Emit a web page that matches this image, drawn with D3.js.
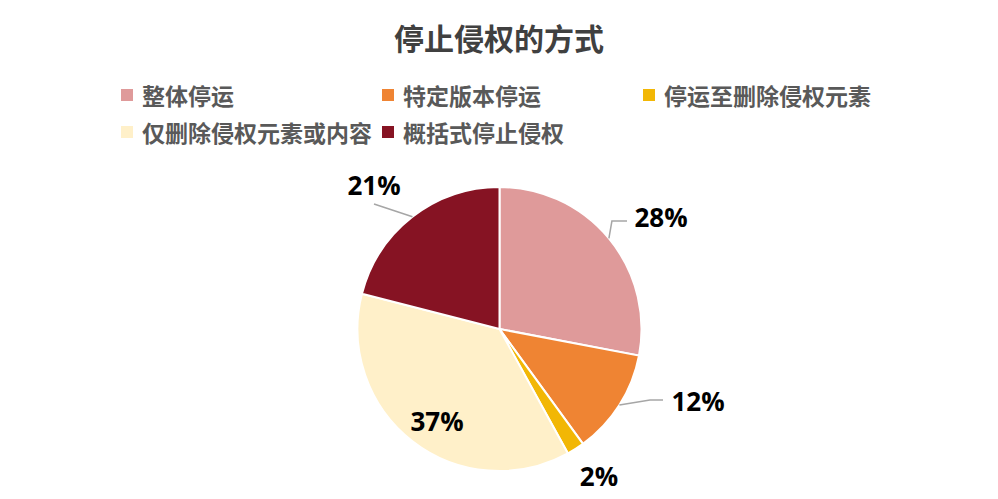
<!DOCTYPE html>
<html><head><meta charset="utf-8">
<script src="https://cdn.jsdelivr.net/npm/d3@7"></script>
<style>body{margin:0;background:#fff;} svg{display:block;}</style>
</head><body>
<svg id="c" width="998" height="499"></svg>
<script>
const title = "停止侵权的方式";
const categories = ["整体停运","特定版本停运","停运至删除侵权元素","仅删除侵权元素或内容","概括式停止侵权"];
const values = [28, 12, 2, 37, 21];
const colors = ["#DF9A9A","#EF8433","#F2B705","#FFF0C9","#861323"];

const svg = d3.select("#c");
const cx = 499.5, cy = 329, R = 142;
const cjk = "'Noto Sans CJK SC','Noto Sans',sans-serif";
const lat = "'Open Sans','Noto Sans',sans-serif";

svg.append("text").attr("x", 499).attr("y", 37).attr("text-anchor","middle")
  .attr("dominant-baseline","central").attr("font-family", cjk).attr("font-weight","bold")
  .attr("font-size", 30).attr("fill","#404040").text(title);

// legend
const legPos = [[121,95],[382,95],[643,95],[121,132],[382,132]];
const lg = svg.append("g");
categories.forEach((c,i)=>{
  const [x,y] = legPos[i];
  lg.append("rect").attr("x",x).attr("y",y-6).attr("width",12).attr("height",12).attr("fill",colors[i]);
  lg.append("text").attr("x",x+21).attr("y",y).attr("dominant-baseline","central")
    .attr("font-family",cjk).attr("font-weight","bold").attr("font-size",23).attr("fill","#595959").text(c);
});

const pie = d3.pie().sort(null).value(d=>d)(values);
const arc = d3.arc().innerRadius(0).outerRadius(R);
const g = svg.append("g").attr("transform",`translate(${cx},${cy})`);
g.selectAll("path").data(pie).join("path").attr("d",arc)
  .attr("fill",(d,i)=>colors[i]).attr("stroke","#fff").attr("stroke-width",2);

const labelPos = [[661,217],[698,401],[599,476],[437,421],[374,185]];
const line = (pts)=>g.append("polyline").attr("points",pts.map(p=>`${p[0]-cx},${p[1]-cy}`).join(" "))
  .attr("fill","none").attr("stroke","#A6A6A6").attr("stroke-width",1.5);
function edge(i, f){ const a=(pie[i].startAngle+pie[i].endAngle)/2; return [cx+Math.sin(a)*R*f, cy-Math.cos(a)*R*f]; }
{ const e=edge(0,1.0); line([e,[e[0]+3,221],[627,221]]); }
{ const e=edge(1,1.0); line([e,[650,400],[663,400]]); }
{ const e=edge(4,1.0); line([e,[374,204]]); }

values.forEach((v,i)=>{
  svg.append("text").attr("x",labelPos[i][0]).attr("y",labelPos[i][1]).attr("text-anchor","middle")
    .attr("dominant-baseline","central").attr("font-family",lat).attr("font-weight","bold")
    .attr("font-size",26).attr("fill","#000").text(v+"%");
});
</script>
</body></html>
